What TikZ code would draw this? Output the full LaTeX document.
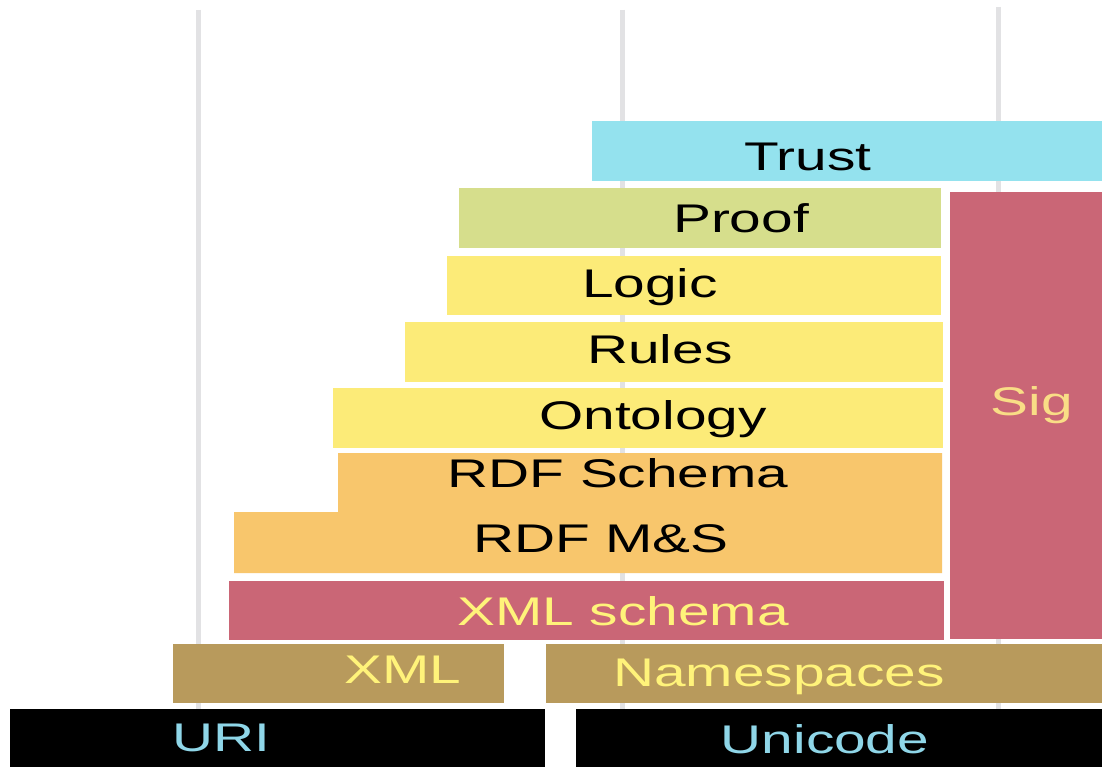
\documentclass[tikz,border=0pt]{standalone}
\usepackage{fontspec}
\setmainfont{Liberation Sans}
\definecolor{cTrust}{HTML}{94E2EE}
\definecolor{cProof}{HTML}{D6DE8C}
\definecolor{cLogic}{HTML}{FCEB78}
\definecolor{cRDF}{HTML}{F8C66C}
\definecolor{cPink}{HTML}{CA6676}
\definecolor{cBrown}{HTML}{B89A5C}
\definecolor{cYelT}{HTML}{FFF37A}
\definecolor{cSigT}{HTML}{F9DD86}
\definecolor{cCyanT}{HTML}{8FD6E8}
\definecolor{cGrid}{HTML}{E2E2E4}
\newcommand\stx[1]{\scalebox{1.42}[1]{#1}}
\tikzset{
  lbl/.style={inner sep=0pt, font=\fontsize{40}{48}\selectfont, text=black},
  lblY/.style={lbl, text=cYelT},
  lblC/.style={lbl, text=cCyanT},
  grid/.style={draw=cGrid, line width=5pt}
}
\begin{document}
\begin{tikzpicture}[x=1pt,y=-1pt]
\useasboundingbox (0,0) rectangle (1102,767);
\fill[white] (0,0) rectangle (1102,767);
% vertical guide lines
\coordinate (g1t) at (198,10); \coordinate (g1b) at (198,767);
\coordinate (g2t) at (622,10); \coordinate (g2b) at (622,767);
\coordinate (g3t) at (998,7);  \coordinate (g3b) at (998,767);
\draw[grid] (g1t) -- (g1b);
\draw[grid] (g2t) -- (g2b);
\draw[grid] (g3t) -- (g3b);
% boxes
\fill[cTrust] (592,121) rectangle (1102,181);
\fill[cProof] (459,188) rectangle (941,248);
\fill[cPink]  (950,192) rectangle (1102,639);
\fill[cLogic] (447,256) rectangle (941,315);
\fill[cLogic] (405,322) rectangle (943,382);
\fill[cLogic] (333,388) rectangle (943,448);
\fill[cRDF] (338,453) -- (942,453) -- (942,573) -- (234,573) -- (234,512) -- (338,512) -- cycle;
\fill[cPink]  (229,581) rectangle (944,640);
\fill[cBrown] (173,644) rectangle (504,703);
\fill[cBrown] (546,644) rectangle (1102,703);
\fill[black]  (10,709) rectangle (545,767);
\fill[black]  (576,709) rectangle (1102,767);
% labels
\node[lbl]  (trust) at (808,157) {\stx{Trust}};
\node[lbl]  (proof) at (741,218) {\stx{Proof}};
\node[lbl]  (logic) at (650,287) {\stx{Logic}};
\node[lbl]  (rules) at (660,349) {\stx{Rules}};
\node[lbl]  (onto)  at (653,419) {\stx{Ontology}};
\node[lbl]  (rdfs)  at (618,473) {\stx{RDF Schema}};
\node[lbl]  (rdfms) at (601,539) {\stx{RDF M\&S}};
\node[lblY] (xmls)  at (623,611) {\stx{XML schema}};
\node[lblY] (xml)   at (403,670) {\stx{XML}};
\node[lblY] (ns)    at (779,677) {\stx{Namespaces}};
\node[lblC] (uri)   at (221,738) {\stx{URI}};
\node[lblC] (uni)   at (825,739) {\stx{Unicode}};
\node[lbl, text=cSigT] (sig) at (1032,405) {\stx{Sig}};
\end{tikzpicture}
\end{document}
